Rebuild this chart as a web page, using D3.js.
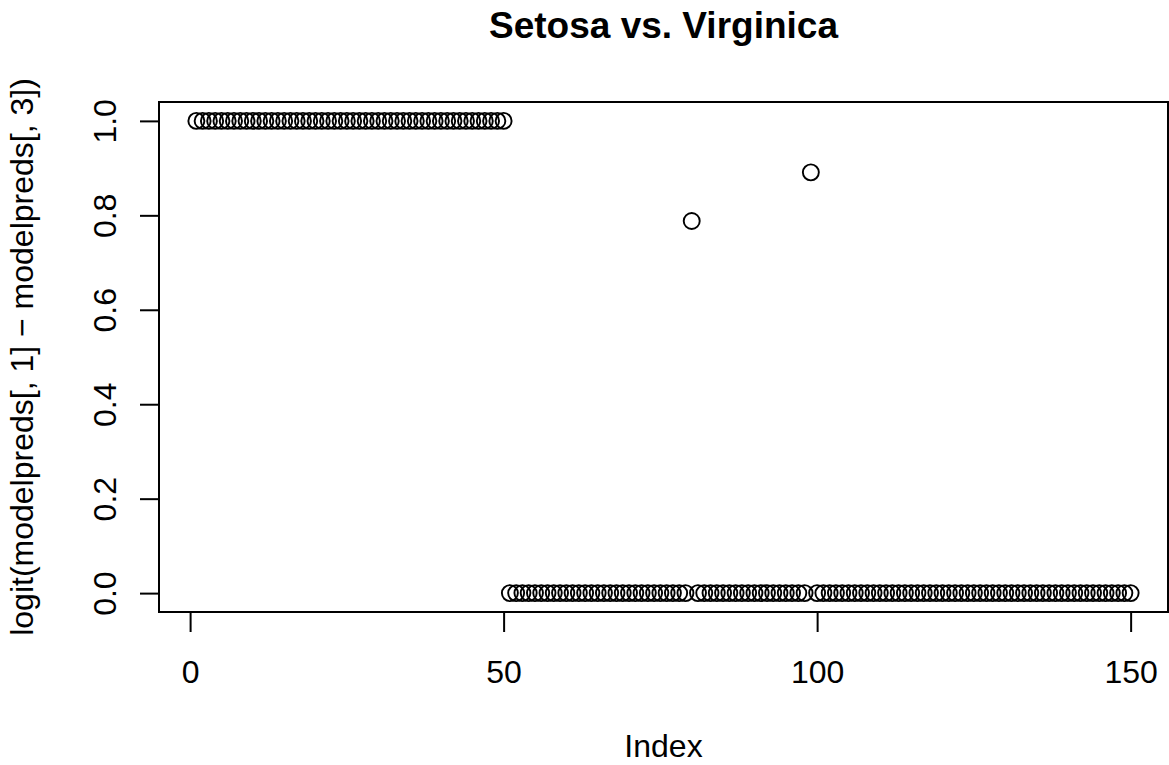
<!DOCTYPE html>
<html>
<head>
<meta charset="utf-8">
<script src="https://cdn.jsdelivr.net/npm/d3@7"></script>
<style>
  html, body { margin: 0; padding: 0; background: #fff; }
  svg { display: block; }
  text { font-family: "Liberation Sans", Arial, Helvetica, sans-serif; fill: #000; }
</style>
</head>
<body>
<svg id="chart" width="1169" height="765"></svg>
<script>
// ---- data ----
const title = "Setosa vs. Virginica";
const xLabel = "Index";
const yLabel = "logit(modelpreds[, 1] \u2212 modelpreds[, 3])";
const xTicks = [0, 50, 100, 150];
const yTicks = [0.0, 0.2, 0.4, 0.6, 0.8, 1.0];
const yTickLabels = ["0.0", "0.2", "0.4", "0.6", "0.8", "1.0"];
// predicted values, one per observation (index 1..150)
const values = [
  1,1,1,1,1,1,1,1,1,1, 1,1,1,1,1,1,1,1,1,1,
  1,1,1,1,1,1,1,1,1,1, 1,1,1,1,1,1,1,1,1,1,
  1,1,1,1,1,1,1,1,1,1,
  0,0,0,0,0,0,0,0,0,0, 0,0,0,0,0,0,0,0,0,0,
  0,0,0,0,0,0,0,0,0,0.788,
  0,0,0,0,0,0,0,0,0,0, 0,0,0,0,0,0,0,0,0.891,
  0,0,0,0,0,0,0,0,0,0, 0,0,0,0,0,0,0,0,0,0,
  0,0,0,0,0,0,0,0,0,0, 0,0,0,0,0,0,0,0,0,0,
  0,0,0,0,0,0,0,0,0,0, 0
];
const points = values.map((v, i) => ({ index: i + 1, value: v }));

// ---- layout ----
const svg = d3.select("#chart");
const pLeft = 159, pRight = 1168, pTop = 102, pBottom = 612;

const xMin = 1, xMax = values.length;
const xPad = (xMax - xMin) * 0.04;
const x = d3.scaleLinear().domain([xMin - xPad, xMax + xPad]).range([pLeft, pRight]);
const y = d3.scaleLinear().domain([-0.04, 1.04]).range([pBottom, pTop]);

// points
svg.append("g")
  .selectAll("circle")
  .data(points)
  .join("circle")
  .attr("cx", d => x(d.index))
  .attr("cy", d => y(d.value))
  .attr("r", 8)
  .attr("fill", "none")
  .attr("stroke", "#000")
  .attr("stroke-width", 1.9);

// box
svg.append("rect")
  .attr("x", pLeft).attr("y", pTop)
  .attr("width", pRight - pLeft).attr("height", pBottom - pTop)
  .attr("fill", "none").attr("stroke", "#000").attr("stroke-width", 2);

// x axis
const gx = svg.append("g")
  .attr("transform", `translate(0,${pBottom})`)
  .call(d3.axisBottom(x).tickValues(xTicks).tickSize(20).tickPadding(28).tickFormat(d3.format("d")));
gx.select(".domain").remove();
gx.selectAll(".tick line").attr("stroke", "#000").attr("stroke-width", 2);
gx.selectAll(".tick text").attr("font-size", 32).attr("font-family", "Liberation Sans, Arial, sans-serif").attr("fill", "#000");
gx.append("line")
  .attr("x1", x(xTicks[0])).attr("x2", x(xTicks[xTicks.length - 1]))
  .attr("y1", 0).attr("y2", 0).attr("stroke", "#000").attr("stroke-width", 2);

// y axis
const gy = svg.append("g")
  .attr("transform", `translate(${pLeft},0)`)
  .call(d3.axisLeft(y).tickValues(yTicks).tickSize(19).tickFormat((d, i) => yTickLabels[i]));
gy.select(".domain").remove();
gy.selectAll(".tick line").attr("stroke", "#000").attr("stroke-width", 2);
gy.selectAll(".tick text")
  .attr("x", null).attr("dy", null)
  .attr("transform", "translate(-43,0) rotate(-90)")
  .attr("text-anchor", "middle")
  .attr("font-size", 32).attr("font-family", "Liberation Sans, Arial, sans-serif").attr("fill", "#000");
gy.append("line")
  .attr("x1", 0).attr("x2", 0)
  .attr("y1", y(yTicks[0])).attr("y2", y(yTicks[yTicks.length - 1]))
  .attr("stroke", "#000").attr("stroke-width", 2);

// title
svg.append("text")
  .attr("x", (pLeft + pRight) / 2).attr("y", 38)
  .attr("text-anchor", "middle")
  .attr("font-size", 37).attr("font-weight", "bold")
  .text(title);

// x label
svg.append("text")
  .attr("x", (pLeft + pRight) / 2).attr("y", 757)
  .attr("text-anchor", "middle")
  .attr("font-size", 32)
  .text(xLabel);

// y label
svg.append("text")
  .attr("transform", `translate(33,${(pTop + pBottom) / 2}) rotate(-90)`)
  .attr("text-anchor", "middle")
  .attr("font-size", 32)
  .text(yLabel);
</script>
</body>
</html>
